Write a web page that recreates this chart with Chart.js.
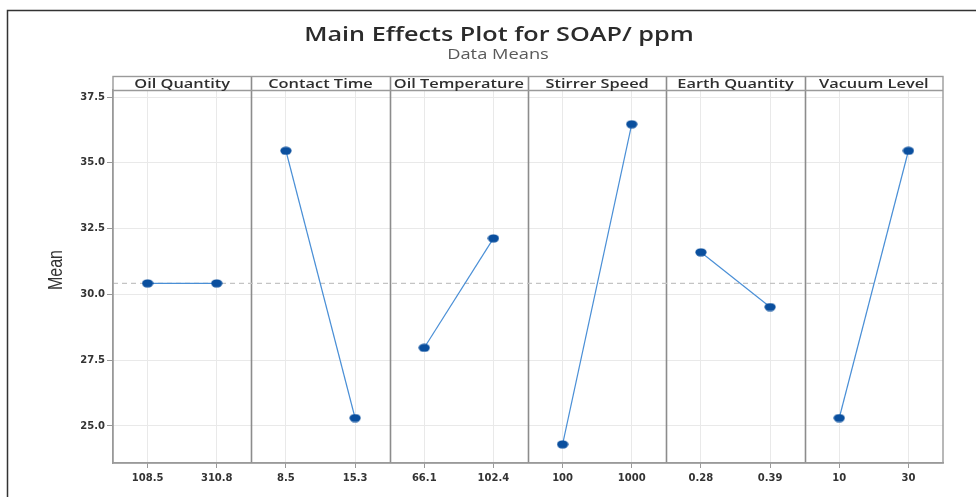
<!DOCTYPE html>
<html><head><meta charset="utf-8">
<script src="https://cdn.jsdelivr.net/npm/chart.js@4"></script>
<style>html,body{margin:0;padding:0;background:#fff}#wrap{width:976px;height:497px;position:relative}</style>
</head><body><div id="wrap"><canvas id="c"></canvas></div>
<script>
const factors = ["Oil Quantity", "Contact Time", "Oil Temperature", "Stirrer Speed", "Earth Quantity", "Vacuum Level"];
const levelLabels = [["108.5", "310.8"], ["8.5", "15.3"], ["66.1", "102.4"], ["100", "1000"], ["0.28", "0.39"], ["10", "30"]];
const lowMeans = [30.42, 35.46, 27.97, 24.30, 31.60, 25.30];
const highMeans = [30.42, 25.30, 32.13, 36.47, 29.52, 35.46];
const grandMean = 30.42;
const yTicks = [25, 27.5, 30, 32.5, 35, 37.5];
const titleText = "Main Effects Plot for SOAP/ ppm";
const subtitleText = "Data Means";
const yTitle = "Mean";

const STRETCH = 1.26; // reference image is horizontally stretched
const POS = [0.25, 0.75];
const xTickPositions = [];
factors.forEach((f, i) => POS.forEach(p => xTickPositions.push(i + p)));

// elliptical marker
const marker = document.createElement('canvas');
marker.width = 12; marker.height = 9;
(() => {
  const m = marker.getContext('2d');
  m.fillStyle = '#0a4f9e';
  m.beginPath(); m.ellipse(6, 4.5, 5.6, 4.1, 0, 0, Math.PI * 2); m.fill();
})();

const datasets = factors.map((f, i) => ({
  label: f,
  data: [{x: i + POS[0], y: lowMeans[i]}, {x: i + POS[1], y: highMeans[i]}],
  borderColor: '#4a8fd6',
  borderWidth: 1.2,
  pointStyle: marker,
  pointRadius: 5,
  showLine: true,
  order: 1
}));
datasets.push({
  label: 'mean',
  data: [{x: 0, y: grandMean}, {x: factors.length, y: grandMean}],
  borderColor: '#c4c4c4',
  borderWidth: 1.3,
  borderDash: [5, 4],
  pointRadius: 0,
  showLine: true,
  order: 5
});

function stretchedText(ctx, text, x, y) {
  ctx.save();
  ctx.translate(x, y);
  ctx.scale(STRETCH, 1);
  ctx.fillText(text, 0, 0);
  ctx.restore();
}

const decor = {
  id: 'decor',
  beforeDatasetsDraw(chart) {
    const ctx = chart.ctx, xs = chart.scales.x, a = chart.chartArea;
    ctx.save();
    ctx.strokeStyle = '#8c8c8c';
    ctx.lineWidth = 1.6;
    for (let k = 1; k < factors.length; k++) {
      const px = Math.round(xs.getPixelForValue(k)) + 0.5;
      ctx.beginPath(); ctx.moveTo(px, 76); ctx.lineTo(px, a.bottom); ctx.stroke();
    }
    ctx.restore();
  },
  afterDraw(chart) {
    const ctx = chart.ctx, xs = chart.scales.x, a = chart.chartArea;
    ctx.save();
    ctx.strokeStyle = '#9a9a9a';
    ctx.lineWidth = 1.4;
    ctx.strokeRect(a.left, 76.5, a.right - a.left, a.bottom - 76.5);
    ctx.beginPath(); ctx.moveTo(a.left, 90.5); ctx.lineTo(a.right, 90.5); ctx.stroke();
    ctx.fillStyle = '#2e2e2e';
    ctx.font = '600 13px "Open Sans"';
    ctx.textAlign = 'center'; ctx.textBaseline = 'middle';
    factors.forEach((f, i) => {
      const cx = (xs.getPixelForValue(i) + xs.getPixelForValue(i + 1)) / 2;
      stretchedText(ctx, f, cx, 84);
    });
    ctx.fillStyle = '#2b2b2b';
    ctx.font = '600 20px "Open Sans"';
    stretchedText(ctx, titleText, 499, 35);
    ctx.fillStyle = '#595959';
    ctx.font = '14.5px "Open Sans"';
    stretchedText(ctx, subtitleText, 498, 55);
    ctx.save();
    ctx.translate(56, 270);
    ctx.rotate(-Math.PI / 2);
    ctx.scale(1, STRETCH);
    ctx.fillStyle = '#333';
    ctx.font = '16px "Liberation Sans Narrow", "Liberation Sans"';
    ctx.fillText(yTitle, 0, 0);
    ctx.restore();
    ctx.strokeStyle = '#333';
    ctx.lineWidth = 1.5;
    ctx.beginPath(); ctx.moveTo(976, 10.5); ctx.lineTo(7.5, 10.5); ctx.lineTo(7.5, 497); ctx.stroke();
    ctx.restore();
  }
};

new Chart(document.getElementById('c'), {
  type: 'scatter',
  data: {datasets},
  plugins: [decor],
  options: {
    responsive: true,
    maintainAspectRatio: false,
    animation: false,
    devicePixelRatio: 1,
    layout: {padding: {top: 90, right: 33, left: 0, bottom: 0}},
    plugins: {legend: {display: false}, tooltip: {enabled: false}, title: {display: false}},
    scales: {
      x: {
        type: 'linear', min: 0, max: factors.length,
        afterBuildTicks: s => { s.ticks = xTickPositions.map(v => ({value: v})); },
        afterFit: s => { s.height = 34; },
        ticks: {
          autoSkip: false, maxRotation: 0, padding: 4,
          color: '#333', font: {family: '"DejaVu Sans"', size: 10, weight: 'bold'},
          callback: (v, i) => levelLabels[Math.floor(i / 2)][i % 2]
        },
        grid: {color: '#e9e9e9', lineWidth: 1, tickColor: '#999', tickLength: 5, drawTicks: true},
        border: {display: true, color: '#9a9a9a', width: 1.4}
      },
      y: {
        type: 'linear', min: 23.59, max: 37.77,
        afterBuildTicks: s => { s.ticks = yTicks.map(v => ({value: v})); },
        afterFit: s => { s.width = 113; },
        ticks: {
          padding: 2, color: '#333', font: {family: '"DejaVu Sans"', size: 10, weight: 'bold'},
          callback: v => v.toFixed(1)
        },
        grid: {color: '#e9e9e9', lineWidth: 1, tickColor: '#999', tickLength: 6, drawTicks: true},
        border: {display: true, color: '#9a9a9a', width: 1.4}
      }
    }
  }
});
</script></body></html>
